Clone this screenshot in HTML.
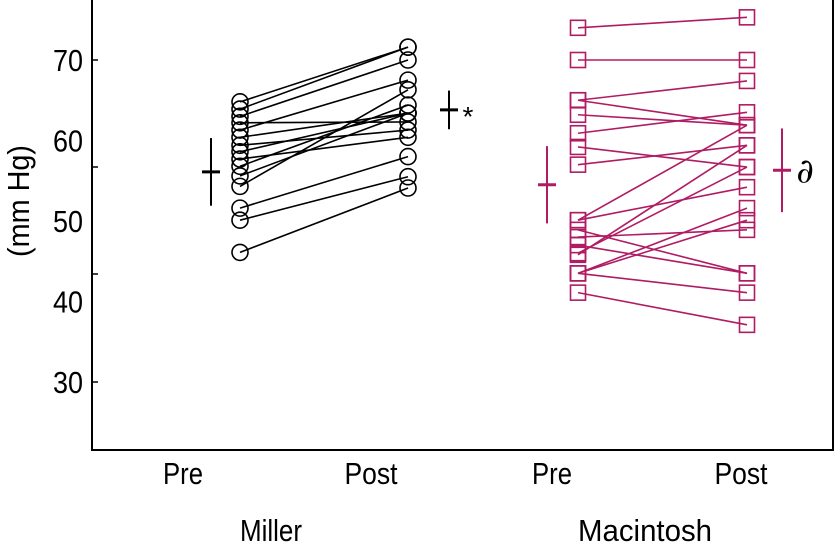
<!DOCTYPE html>
<html><head><meta charset="utf-8"><style>
body{margin:0;background:#fff}
svg{display:block;font-family:"Liberation Sans Narrow","Liberation Sans",sans-serif}
</style></head><body>
<svg id="c" width="836" height="545" viewBox="0 0 836 545"></svg>
<script>
const groups=["Miller","Macintosh"];
const yTickLabels=[70,60,50,40,30];
const millerPre=[64.8,63.9,63.0,62.2,61.3,60.4,59.4,58.6,57.7,56.8,55.6,54.3,51.6,50.1,46.1];
const millerPost=[71.6,71.6,70.0,62.3,67.5,63.4,61.3,63.4,60.4,64.4,63.4,66.3,58.0,55.5,54.1];
const macPre=[74.0,70.0,65.0,65.0,63.2,60.9,59.2,57.0,50.1,50.1,48.9,48.0,47.0,46.0,45.8,43.5,43.5,43.5,41.1];
const macPost=[75.3,70.0,67.4,61.9,61.9,63.5,56.7,59.4,54.2,61.9,43.5,48.9,43.5,56.7,59.4,51.6,50.1,41.1,37.1];
const millerMean=[56.1,63.8];const millerSD=[4.2,2.4];
const macMean=[54.5,56.3];const macSD=[4.8,5.2];
const NS="http://www.w3.org/2000/svg";
const svg=document.getElementById('c');
const y=v=>60+(70-v)*8.05;
function el(t,a,p){const e=document.createElementNS(NS,t);for(const k in a)e.setAttribute(k,a[k]);(p||svg).appendChild(e);return e;}
const ax=el('path',{d:'M92,0 V450 H833 V0',fill:'none',stroke:'#000','stroke-width':2});


[60,167,274,382].forEach(t=>{const l=el('line',{x1:92,x2:98,y1:t,y2:t,stroke:'#000','stroke-width':1.5});

});
yTickLabels.forEach(v=>{const t=el('text',{x:68,y:y(v)+11,'font-size':31,'text-anchor':'middle',textLength:30,lengthAdjust:'spacingAndGlyphs'});t.textContent=v;

});
const yt=el('text',{transform:'translate(29,201) rotate(-90)','font-size':31,'text-anchor':'middle',textLength:112,lengthAdjust:'spacingAndGlyphs'});yt.textContent='(mm Hg)';


[[183,'Pre',40],[371,'Post',53],[552,'Pre',40],[741,'Post',53]].forEach(([x,s,w])=>{const t=el('text',{x:x,y:484,'font-size':31,'text-anchor':'middle',textLength:w,lengthAdjust:'spacingAndGlyphs'});t.textContent=s;

});
[[271,groups[0],62],[645,groups[1],134]].forEach(([x,s,w])=>{const t=el('text',{x:x,y:541,'font-size':31,'text-anchor':'middle',textLength:w,lengthAdjust:'spacingAndGlyphs'});t.textContent=s;

});
function series(pre,post,x1,x2,col,shape,name){
 const g=el('g',{});
 
 
 pre.forEach((v,i)=>{const l=el('line',{x1:x1,y1:y(v),x2:x2,y2:y(post[i]),stroke:col,'stroke-width':1.6},g);
 
 });
 const mk=(x,v)=>{let m;
  if(shape==='c')m=el('circle',{cx:x,cy:y(v),r:8,fill:'none',stroke:col,'stroke-width':1.6},g);
  else m=el('rect',{x:x-7.5,y:y(v)-7.5,width:15,height:15,fill:'none',stroke:col,'stroke-width':1.6},g);
  
  };
 pre.forEach(v=>mk(x1,v));post.forEach(v=>mk(x2,v));
}
series(millerPre,millerPost,240,408,'#000','c','miller');
series(macPre,macPost,578,747,'#b01c64','s','macintosh');
function meanMark(x,m,sd,col,name){const g=el('g',{stroke:col,'stroke-width':2.5});
 
 
 el('line',{x1:x,x2:x,y1:y(m+sd),y2:y(m-sd),'stroke-width':2},g);
 el('line',{x1:x-9,x2:x+9,y1:y(m),y2:y(m),'stroke-width':3},g);}
meanMark(211,millerMean[0],millerSD[0],'#000','miller-pre-mean');
meanMark(449,millerMean[1],millerSD[1],'#000','miller-post-mean');
meanMark(547,macMean[0],macSD[0],'#b01c64','macintosh-pre-mean');
meanMark(782,macMean[1],macSD[1],'#b01c64','macintosh-post-mean');
const st=el('text',{x:468,y:y(millerMean[1])+16,'font-size':28,'text-anchor':'middle'});st.textContent='*';


const dd=el('text',{x:805,y:y(macMean[1])+12,'font-size':34,'text-anchor':'middle','font-family':'DejaVu Serif, serif','font-style':'italic'});dd.textContent='∂';


</script>
</body></html>
